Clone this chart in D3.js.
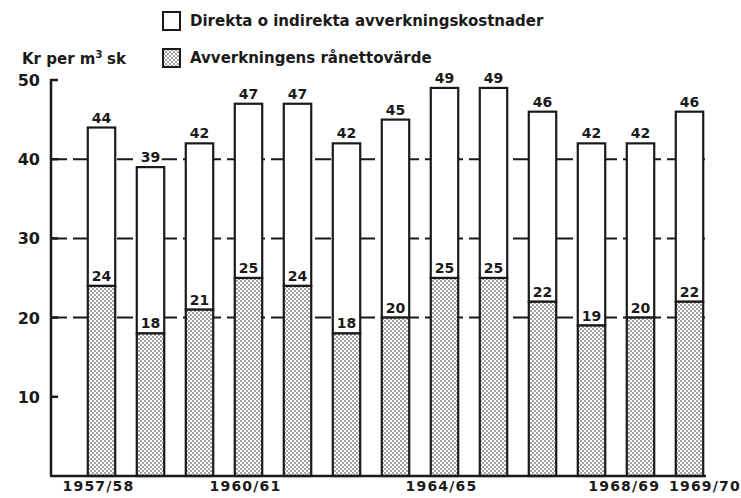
<!DOCTYPE html>
<html>
<head>
<meta charset="utf-8">
<script src="https://cdn.jsdelivr.net/npm/d3@7"></script>
<style>
	body { margin: 0; background: #fff; }
	text { font-family: "DejaVu Sans", sans-serif; font-weight: bold; fill: #1a1a1a; }
</style>
</head>
<body>
<div id="chart"></div>
<script>
// values
var years = ["1957/58", "1958/59", "1959/60", "1960/61", "1961/62", "1962/63", "1963/64",
	"1964/65", "1965/66", "1966/67", "1967/68", "1968/69", "1969/70"];
var totals = [44, 39, 42, 47, 47, 42, 45, 49, 49, 46, 42, 42, 46];
var netValue = [24, 18, 21, 25, 24, 18, 20, 25, 25, 22, 19, 20, 22];
var yTicks = [10, 20, 30, 40, 50];
var gridValues = [20, 30, 40];
var xLabels = ["1957/58", "1960/61", "1964/65", "1968/69", "1969/70"];
var legendLabels = ["Direkta o indirekta avverkningskostnader", "Avverkningens rånettovärde"];

var ctx = { width: 741, height: 498, axisX: 51 };
var ink = "#1a1a1a";

var svg = d3.select("#chart").append("svg")
	.attr("width", ctx.width)
	.attr("height", ctx.height);

// dotted fill
var pat = svg.append("defs").append("pattern")
	.attr("id", "dots")
	.attr("patternUnits", "userSpaceOnUse")
	.attr("width", 4)
	.attr("height", 4);
pat.append("rect").attr("width", 4).attr("height", 4).attr("fill", "#fff");
pat.append("circle").attr("cx", 1).attr("cy", 1).attr("r", 0.75).attr("fill", ink);
pat.append("circle").attr("cx", 3).attr("cy", 3).attr("r", 0.75).attr("fill", ink);

var x = d3.scaleBand()
	.domain(years)
	.range([77, 714])
	.paddingInner(0.44)
	.paddingOuter(0.22);

var y = d3.scaleLinear()
	.domain([0, 50])
	.range([476, 80]);

// dashed grid lines
svg.selectAll(".grid")
	.data(gridValues)
	.join("line")
	.attr("class", "grid")
	.attr("x1", ctx.axisX)
	.attr("x2", 706)
	.attr("y1", (d) => y(d))
	.attr("y2", (d) => y(d))
	.attr("stroke", ink)
	.attr("stroke-width", 2)
	.attr("stroke-dasharray", "16,6");

var rows = years.map((yr, i) => ({ year: yr, total: totals[i], net: netValue[i] }));

// cost part (white)
svg.selectAll(".cost")
	.data(rows)
	.join("rect")
	.attr("class", "cost")
	.attr("x", (d) => x(d.year))
	.attr("width", x.bandwidth())
	.attr("y", (d) => y(d.total))
	.attr("height", (d) => y(d.net) - y(d.total))
	.attr("fill", "#fff")
	.attr("stroke", ink)
	.attr("stroke-width", 2.2);

// net value part (dotted)
svg.selectAll(".net")
	.data(rows)
	.join("rect")
	.attr("class", "net")
	.attr("x", (d) => x(d.year))
	.attr("width", x.bandwidth())
	.attr("y", (d) => y(d.net))
	.attr("height", (d) => y(0) - y(d.net))
	.attr("fill", "url(#dots)")
	.attr("stroke", ink)
	.attr("stroke-width", 2.2);

// value labels
svg.selectAll(".totLabel")
	.data(rows)
	.join("text")
	.attr("class", "totLabel")
	.attr("x", (d) => x(d.year) + x.bandwidth() / 2)
	.attr("y", (d) => y(d.total) - 5)
	.attr("text-anchor", "middle")
	.style("font-size", "14px")
	.style("stroke", "#fff")
	.style("stroke-width", 5)
	.style("paint-order", "stroke")
	.text((d) => d.total);

svg.selectAll(".netLabel")
	.data(rows)
	.join("text")
	.attr("class", "netLabel")
	.attr("x", (d) => x(d.year) + x.bandwidth() / 2)
	.attr("y", (d) => y(d.net) - 5)
	.attr("text-anchor", "middle")
	.style("font-size", "14px")
	.text((d) => d.net);

// y axis: line, inward ticks, labels on the left
svg.append("line")
	.attr("x1", ctx.axisX).attr("x2", ctx.axisX)
	.attr("y1", y(0)).attr("y2", y(50) - 1)
	.attr("stroke", ink).attr("stroke-width", 2.5);

svg.selectAll(".ytick")
	.data(yTicks)
	.join("line")
	.attr("class", "ytick")
	.attr("x1", ctx.axisX)
	.attr("x2", ctx.axisX + 7)
	.attr("y1", (d) => y(d))
	.attr("y2", (d) => y(d))
	.attr("stroke", ink)
	.attr("stroke-width", 2.5);

svg.selectAll(".ylab")
	.data(yTicks)
	.join("text")
	.attr("class", "ylab")
	.attr("x", 40)
	.attr("y", (d) => y(d) + 6)
	.attr("text-anchor", "end")
	.style("font-size", "16px")
	.text((d) => d);

// baseline
svg.append("line")
	.attr("x1", ctx.axisX - 1).attr("x2", 706)
	.attr("y1", y(0)).attr("y2", y(0))
	.attr("stroke", ink).attr("stroke-width", 2.5);

// x labels (last two pushed apart so they don't collide)
var nX = xLabels.length;
svg.selectAll(".xlab")
	.data(xLabels)
	.join("text")
	.attr("class", "xlab")
	.attr("x", (d, i) => {
		if (i == nX - 1) return ctx.width;
		if (i == nX - 2) return x(d) + x.bandwidth() + 6;
		return x(d) + x.bandwidth() / 2 - 3;
	})
	.attr("y", 491)
	.attr("text-anchor", (d, i) => i == nX - 1 || i == nX - 2 ? "end" : "middle")
	.style("font-size", "14px")
	.style("letter-spacing", "1.2px")
	.text((d) => d);

// unit label
svg.append("text")
	.attr("x", 22)
	.attr("y", 64)
	.style("font-size", "15px")
	.text("Kr per m")
	.append("tspan")
	.attr("dy", -6)
	.style("font-size", "10px")
	.text("3");
svg.append("text")
	.attr("x", 107)
	.attr("y", 64)
	.style("font-size", "15px")
	.text("sk");

// legend
var legend = svg.selectAll(".leg")
	.data(legendLabels)
	.join("g")
	.attr("class", "leg")
	.attr("transform", (d, i) => "translate(163," + (12 + i * 37) + ")");

legend.append("rect")
	.attr("width", 17)
	.attr("height", 18)
	.attr("fill", (d, i) => i == 0 ? "#fff" : "url(#dots)")
	.attr("stroke", ink)
	.attr("stroke-width", 2);

legend.append("text")
	.attr("x", 27)
	.attr("y", 14)
	.style("font-size", "15px")
	.text((d) => d);
</script>
</body>
</html>
